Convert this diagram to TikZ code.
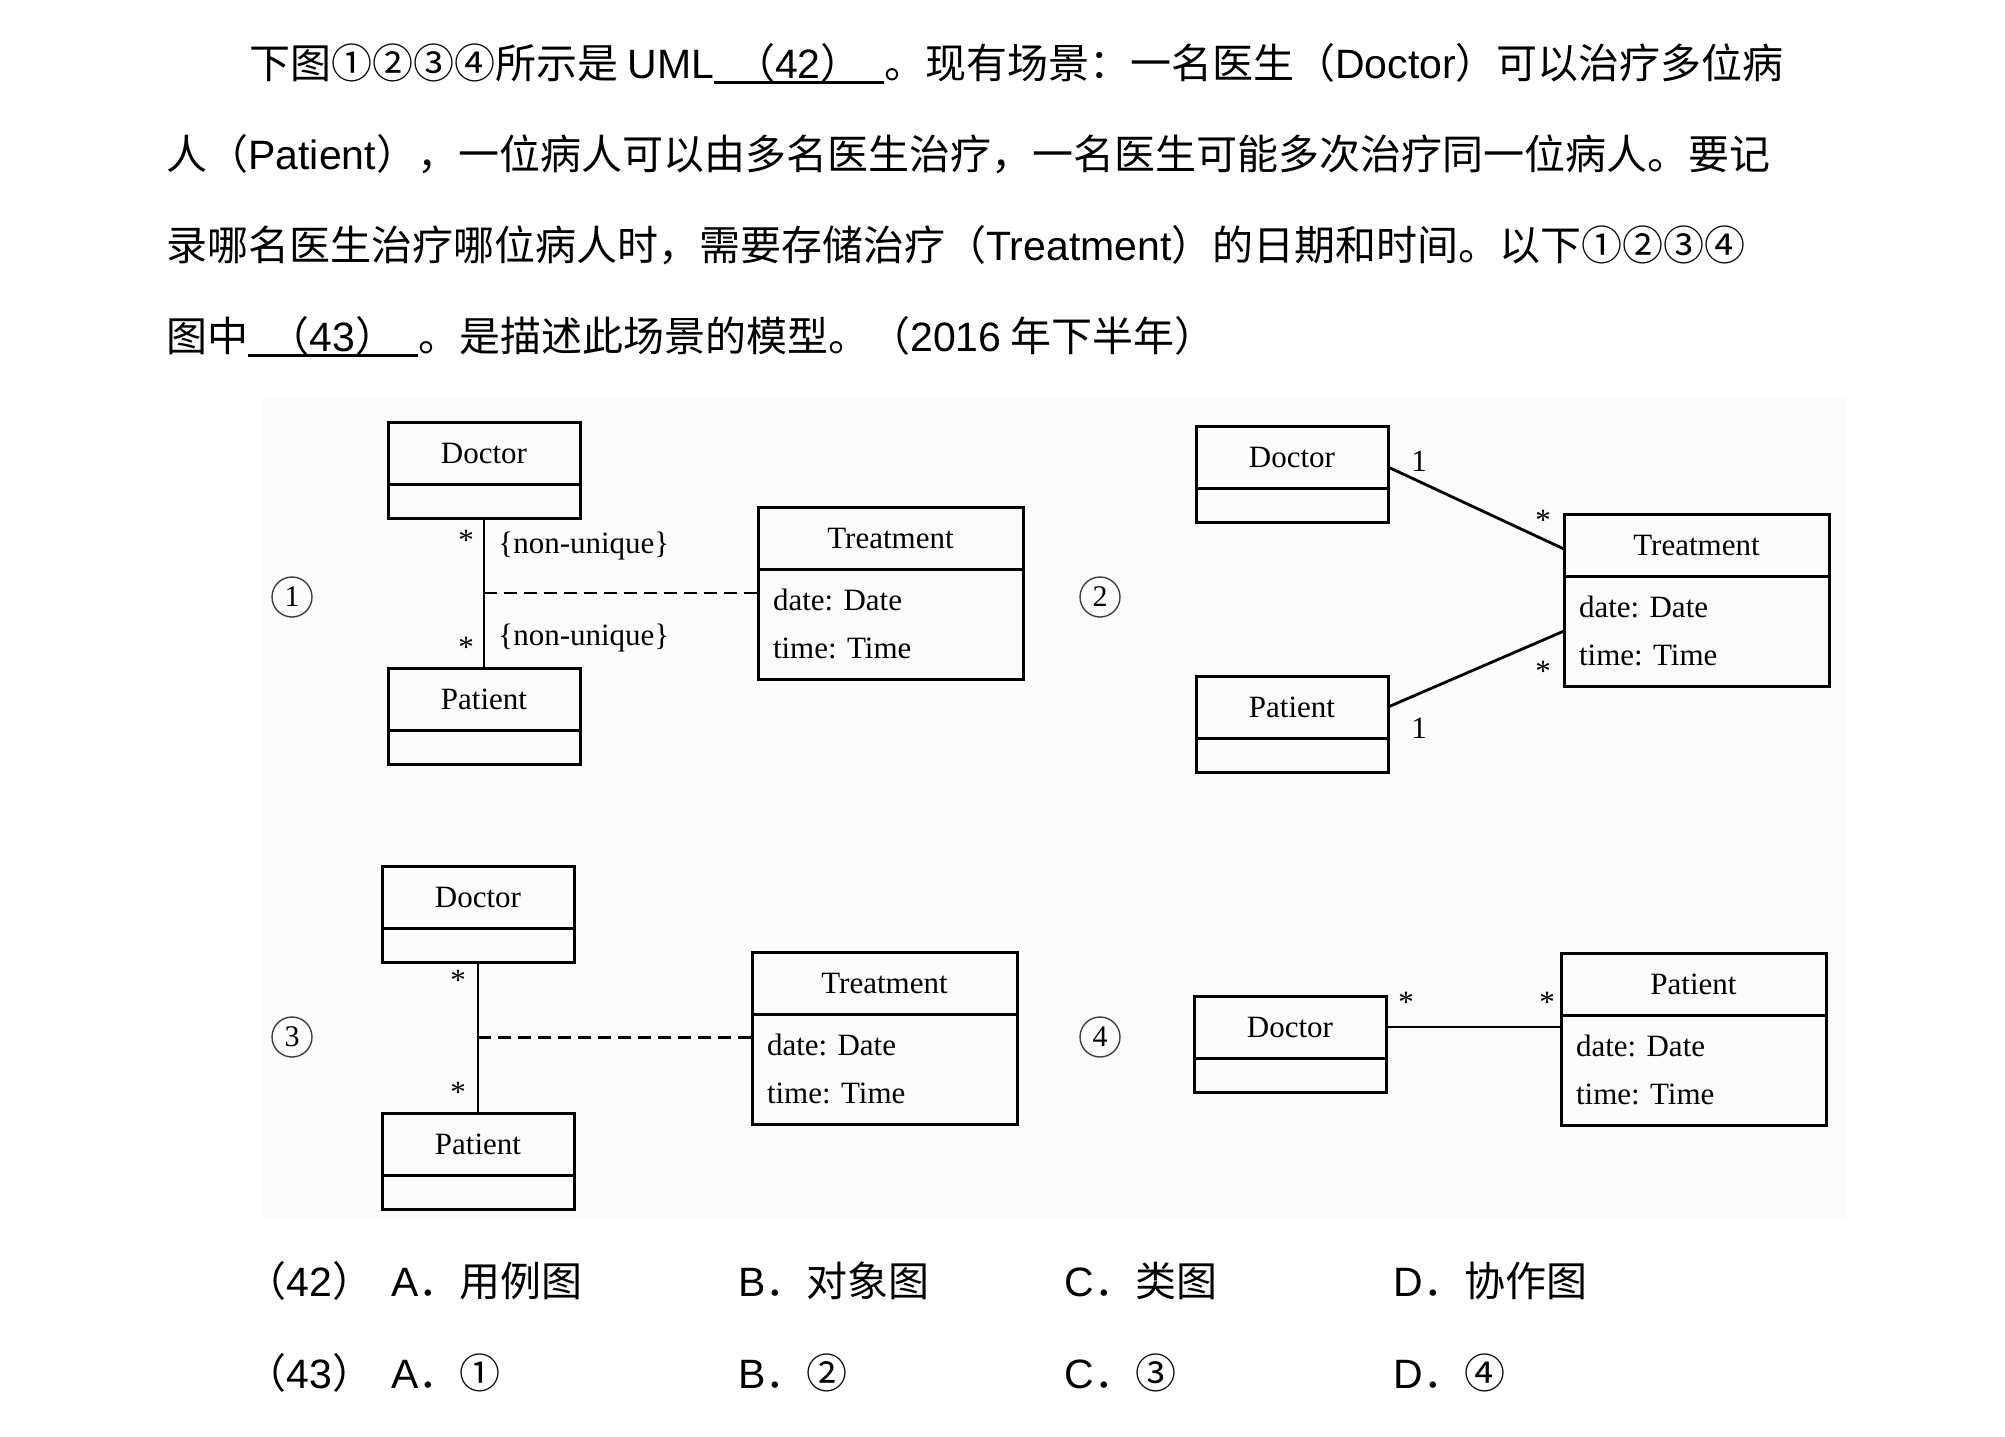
\documentclass[tikz,border=0pt]{standalone}
\usepackage{fontspec}
\setmainfont{Liberation Sans}
\newfontfamily\cjk{Noto Sans CJK SC}
\newfontfamily\tnr{Liberation Serif}
\usetikzlibrary{positioning}
\frenchspacing
\newcommand{\eng}[1]{{\rmfamily #1}}
\newcommand{\blank}[1]{\rlap{\rule[-3pt]{85pt}{1.3pt}}\hbox to 85pt{\hspace{10pt}#1\hfil}}

\begin{document}
\begin{tikzpicture}[x=0.5pt, y=-0.5pt,
    cls/.style={draw, line width=1.5pt, outer sep=0pt, inner sep=0pt,
                minimum width=96pt, font=\tnr\fontsize{15.5}{24}\selectfont},
    clshead/.style={cls, minimum height=31pt},
    clsbody/.style={cls, minimum height=17pt},
    widehead/.style={clshead, minimum width=132.5pt},
    attrbody/.style={cls, minimum width=132.5pt, minimum height=55pt,
                text width=117.5pt, align=left},
    assoc/.style={line width=1.4pt},
    classlink/.style={line width=1.4pt, dash pattern=on 6.5pt off 3.5pt},
    mult/.style={inner sep=0pt, font=\tnr\fontsize{15.5}{18}\selectfont},
    figno/.style={circle, draw=black!75, line width=0.7pt, minimum size=20pt, inner sep=0pt,
                font=\tnr\fontsize{15}{15}\selectfont},
    question/.style={anchor=base west, inner sep=0pt,
                font=\cjk\fontsize{20.5}{24}\selectfont}]

    % --- 画布和图片底色 ---
    \useasboundingbox (0,0) rectangle (2005,1436);
    \fill[black!1.5] (263,398) rectangle (1845,1218);

    % --- 题干 ---
    \node[question] (q1) at (249,78) {下图①②③④所示是 \eng{UML}\blank{（\eng{42}）}。现有场景：一名医生（\eng{Doctor}）可以治疗多位病};
    \node[question] (q2) at (166,169) {人（\eng{Patient}），一位病人可以由多名医生治疗，一名医生可能多次治疗同一位病人。要记};
    \node[question] (q3) at (166,260) {录哪名医生治疗哪位病人时，需要存储治疗（\eng{Treatment}）的日期和时间。以下①②③④};
    \node[question] (q4) at (166,351) {图中\blank{（\eng{43}）}。是描述此场景的模型。（\eng{2016} 年下半年）};

    % --- 图① ---
    \node[figno] (n1) at (292,597) {1};
    \node[clshead, anchor=north west] (d1) at (388,422) {Doctor};
    \node[clsbody, below=0pt of d1] (d1b) {};
    \node[clshead, anchor=north west] (p1) at (388,668) {Patient};
    \node[clsbody, below=0pt of p1] (p1b) {};
    \node[widehead, anchor=north west] (t1) at (758,507) {Treatment};
    \node[attrbody, below=0pt of t1] (t1b) {date: Date\\time: Time};
    \draw[assoc] (d1b) -- coordinate (m1) (p1)
        node[mult, pos=0.15, xshift=-9pt] (s1a) {*}
        node[mult, pos=0.19, anchor=west, xshift=6.5pt] (u1a) {\{non-unique\}}
        node[mult, pos=0.86, xshift=-9pt] (s1b) {*}
        node[mult, pos=0.80, anchor=west, xshift=6.5pt] (u1b) {\{non-unique\}};
    \draw[classlink] (m1) -- (m1 -| t1b.west);

    % --- 图② ---
    \node[figno] (n2) at (1100,597) {2};
    \node[clshead, anchor=north west] (d2) at (1196,426) {Doctor};
    \node[clsbody, below=0pt of d2] (d2b) {};
    \node[clshead, anchor=north west] (p2) at (1196,676) {Patient};
    \node[clsbody, below=0pt of p2] (p2b) {};
    \node[widehead, anchor=north west] (t2) at (1564,514) {Treatment};
    \node[attrbody, below=0pt of t2] (t2b) {date: Date\\time: Time};
    \draw[assoc] ([yshift=-5pt]d2.east) -- ([yshift=-2pt]t2.west)
        node[mult, pos=0, shift={(31,-6)}] (r2a) {1}
        node[mult, pos=1, shift={(-21,-29)}] (s2a) {*};
    \draw[assoc] (p2.east) -- (t2b.west)
        node[mult, pos=0, shift={(31,21)}] (r2b) {1}
        node[mult, pos=1, shift={(-21,40)}] (s2b) {*};

    % --- 图③ ---
    \node[figno] (n3) at (292,1037) {3};
    \node[clshead, anchor=north west] (d3) at (382,866) {Doctor};
    \node[clsbody, below=0pt of d3] (d3b) {};
    \node[clshead, anchor=north west] (p3) at (382,1113) {Patient};
    \node[clsbody, below=0pt of p3] (p3b) {};
    \node[widehead, anchor=north west] (t3) at (752,952) {Treatment};
    \node[attrbody, below=0pt of t3] (t3b) {date: Date\\time: Time};
    \draw[assoc] (d3b) -- coordinate (m3) (p3)
        node[mult, pos=0.12, xshift=-10pt] (s3a) {*}
        node[mult, pos=0.86, xshift=-10pt] (s3b) {*};
    \draw[classlink] (m3) -- (m3 -| t3b.west);

    % --- 图④ ---
    \node[figno] (n4) at (1100,1037) {4};
    \node[clshead, anchor=north west] (d4) at (1194,996) {Doctor};
    \node[clsbody, below=0pt of d4] (d4b) {};
    \node[widehead, anchor=north west] (p4) at (1561,953) {Patient};
    \node[attrbody, below=0pt of p4] (p4b) {date: Date\\time: Time};
    \draw[assoc] (d4.east) -- (d4.east -| p4b.west)
        node[mult, pos=0, shift={(20,-25)}] (s4a) {*}
        node[mult, pos=1, shift={(-14,-25)}] (s4b) {*};

    % --- 选项 ---
    \node[question] (o42) at (245,1296) {（\eng{42}）};
    \node[question] (o42a) at (391,1296) {\eng{A}．用例图};
    \node[question] (o42b) at (738,1296) {\eng{B}．对象图};
    \node[question] (o42c) at (1064,1296) {\eng{C}．类图};
    \node[question] (o42d) at (1393,1296) {\eng{D}．协作图};
    \node[question] (o43) at (245,1388) {（\eng{43}）};
    \node[question] (o43a) at (391,1388) {\eng{A}．①};
    \node[question] (o43b) at (738,1388) {\eng{B}．②};
    \node[question] (o43c) at (1064,1388) {\eng{C}．③};
    \node[question] (o43d) at (1393,1388) {\eng{D}．④};

\end{tikzpicture}
\end{document}
